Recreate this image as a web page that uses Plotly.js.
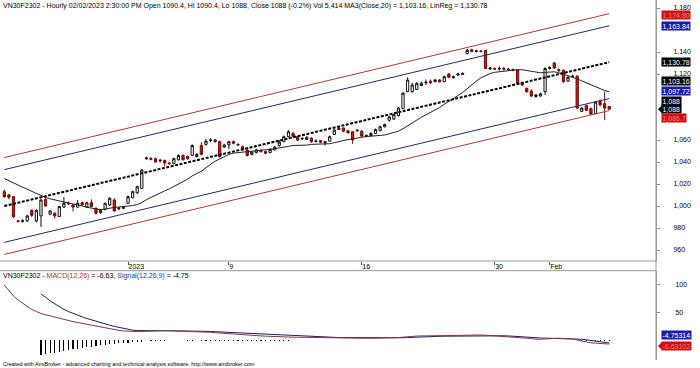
<!DOCTYPE html>
<html>
<head>
<meta charset="utf-8">
<script src="https://cdn.plot.ly/plotly-3.0.1.min.js"></script>
<style>html,body{margin:0;padding:0;background:#fff;}#chart{width:700px;height:368px;}</style>
</head>
<body>
<div id="chart"></div>
<script>
// ---- session calendar (trading days and hourly bars per day) ----
const days = ["2022-12-26","2022-12-27","2022-12-28","2022-12-29","2022-12-30",
  "2023-01-03","2023-01-04","2023-01-05","2023-01-06",
  "2023-01-09","2023-01-10","2023-01-11","2023-01-12","2023-01-13",
  "2023-01-16","2023-01-17","2023-01-18","2023-01-19","2023-01-27",
  "2023-01-30","2023-01-31","2023-02-01","2023-02-02"];
const barsPerDay = [3,6,6,6,6, 4,6,6,6, 6,6,6,6,5, 6,6,6,5,6, 6,6,7,7];
const hourSlots = ["08:45","09:00","10:00","11:00","13:00","14:00","14:30"];
const tickDays = ["2023-01-03","2023-01-09","2023-01-16","2023-01-30","2023-02-01"];
const tickLabels = ["2023","9","16","30","Feb"];

// price-axis labels that are visible (the others sit under the value boxes)
const priceTicks = [960,980,1000,1020,1040,1060,1120,1140,1180];
const macdTicks = [50,100];

// ---- OHLC ----
const open = [1013,1010,1008.5,986.5,986,986.5,996,986.5,991,1006,
 992.5,993.5,990.5,999,1002.5,1001,999,1003,999,1003,
 998,994,997,1001,1005.5,997.5,998,1002.5,1007.5,1012,
 1016,1043,1043,1043,1041,1041.5,1039,1038.5,1042,1046,
 1045,1046,1045,1055,1056,1059.5,1060,1058.5,1053.5,1055.5,
 1058.5,1056,1054,1051,1047,1048.5,1050.5,1049.5,1048.5,1051,
 1055,1058.5,1063,1066,1063,1061,1060.5,1061.5,1058.5,1059.5,
 1057.5,1059,1065,1071,1071,1068.5,1067.5,1069,1068,1063.5,
 1064,1066,1068.5,1072,1078,1079,1082,1088.5,1104,1104,
 1106,1109.5,1112,1113.5,1113,1114.5,1113,1120,1116.5,1119,
 1119.5,1138.5,1142,1140.5,1141,1141.5,1124.5,1125,1124.5,1125,
 1124.5,1124,1123.6,1112,1107,1104.5,1099.5,1100,1104,1125,
 1130,1124,1123.5,1113.5,1117.5,1118,1086,1091.5,1088.5,1084,
 1095,1093,1090.4];
const high = [1015,1011,1009,987,988,992,997,997,1006,1007,
 996,994,1000,1008,1004,1001.5,1005.5,1004,1004,1006,
 998.5,997,1003,1008,1007,999,1000,1009.5,1014,1018.5,
 1033.5,1045,1044.5,1044,1043,1042,1040,1044,1047,1047,
 1046,1056,1048,1058,1061,1061.5,1061,1059.5,1056.5,1059,
 1059.5,1057,1055,1051.5,1050,1052,1051.5,1050.5,1052.5,1054.5,
 1060,1064,1069,1067.5,1063.5,1062.5,1063.5,1062.5,1060.5,1060,
 1059,1064,1070,1072,1071.5,1069,1068,1070,1069,1065,
 1067,1070.5,1073,1075,1082,1084,1090,1103.5,1117,1112,
 1112.5,1113,1115,1115,1115.5,1115.5,1118.5,1121,1118.5,1121,
 1121.5,1143,1143,1142,1141.5,1142,1126.5,1126,1127,1126.5,
 1125.5,1125,1124,1112.5,1107.5,1106,1101.5,1103,1126,1127,
 1131,1125,1124,1118,1119.5,1119,1090,1092,1089.5,1095.5,
 1097,1104,1090.4];
const low = [1007.5,1006,989,985,985,985.5,990,985,981,999.5,
 992,988.5,990,998.5,1001,995,998.5,1000.5,998.5,999,
 992,993,996,1000,995,996,997,1002,1007,1011,
 1015.5,1042,1041.5,1039.5,1039.5,1036,1037.5,1038,1041.5,1041.5,
 1042,1045.5,1044,1046,1055,1058,1057.5,1044,1053,1051.8,
 1056,1054.5,1050,1045,1046,1048,1048.5,1047,1048,1050.5,
 1054,1058,1062.5,1062.5,1059,1060,1060,1057.5,1058,1057,
 1055,1058.5,1064.5,1069,1067,1066,1056.5,1067.5,1063,1062.5,
 1063.5,1065.5,1068,1071.5,1076.5,1078.5,1081.5,1088,1103.5,1103,
 1105.5,1109,1110,1111,1112.5,1112,1112.5,1116.5,1116,1118.5,
 1119,1138,1140,1139.5,1139.5,1124.5,1124,1123.5,1123,1123,
 1123.5,1122.5,1111,1109,1103,1099,1098.5,1099.5,1101,1124,
 1124.5,1122,1112,1113,1117,1088,1085.5,1086.5,1083,1083.5,
 1090.5,1078,1088];
const close = [1008.5,1008,990.3,986,986.5,991,991.5,996,1005.5,1000,
 995.5,991,999.5,1002.5,1002,999,1002.5,1001,1003,999.5,
 993.5,996,1002.5,1007,995.5,998,998.5,1008.5,1013,1017.5,
 1032.7,1043.5,1042.5,1040,1041.5,1039,1038.5,1043,1046,1042,
 1043,1055,1047,1047,1059,1060,1058.5,1045,1055.5,1058.5,
 1057,1055.5,1051,1046,1049,1051,1049.5,1048,1051.5,1053.5,
 1058,1063,1067.5,1063.5,1060,1061.5,1062.5,1058.5,1059,1058,
 1058.5,1063,1069,1069.5,1068,1066.5,1060,1068.5,1063.5,1064,
 1066,1069.5,1072,1074,1081,1083,1089,1102.5,1114.5,1110,
 1111.5,1111.5,1112.5,1112,1114.5,1113,1117.5,1117,1117.5,1120,
 1120.5,1141.5,1140.5,1141,1140.5,1125,1125.5,1124.5,1125,1124.5,
 1124,1123.5,1111.5,1110,1104,1100,1101,1102,1125,1126,
 1125.5,1123,1113,1117,1118,1089,1089,1087,1083.5,1094.5,
 1092,1089,1088];

// MA(Close,20): values read for the first bars (history before the window), then from closes
const maPeriod = 20;
const maHead = [1025.0,1023.2,1021.1,1019.1,1017.1,1015.2,1013.2,1011.3,1009.3,1007.7,
 1006.5,1005.6,1004.9,1004.1,1003.2,1002.2,1001.1,1000.0,998.9];

// Linear regression channel (read)
const linRegEnds = [1000.0, 1130.78];
const bandInner = 33.06;
const bandOuter = 44.05;

// MACD panel (read)
const macd = [99.1,88.5,79.7,72.6,66.4,60.2,55.3,51.8,48.2,46.1,
 43.8,41.7,39.6,37.5,35.5,33.7,32.2,30.6,28.8,27.2,
 25.1,23.3,21.7,20.5,19.4,18.0,17.0,16.3,15.9,15.7,
 16.1,16.6,17.3,17.5,17.5,17.5,17.5,17.3,17.0,16.6,
 16.3,16.1,15.9,15.5,15.0,14.5,13.8,13.1,12.4,11.8,
 11.5,10.8,10.2,9.5,9.0,8.5,8.1,7.6,7.1,6.7,
 6.2,5.8,5.8,5.8,5.6,5.4,5.2,5.0,4.8,4.6,
 4.4,4.3,4.4,4.6,4.7,4.7,4.4,4.3,4.1,3.9,
 3.8,3.8,3.9,4.1,4.2,4.5,5.0,5.8,6.8,7.4,
 7.8,8.0,8.1,8.1,8.1,8.0,8.0,8.0,7.9,7.9,
 7.9,8.8,9.4,9.8,10.0,9.3,8.7,8.2,7.7,7.2,
 6.8,6.4,5.6,4.8,3.9,3.0,2.3,1.8,2.6,3.3,
 3.8,3.9,3.4,3.1,2.9,0.6,-1.4,-3.0,-4.4,-4.9,
 -5.5,-6.1,-6.63];
const signal = [null,null,null,null,null,null,null,null,82.9,77.9,
 70.8,65.5,60.6,55.8,51.8,48.2,45.2,42.2,39.4,36.7,
 34.1,31.8,29.5,27.2,25.1,23.1,21.2,19.6,18.4,17.7,
 17.3,17.3,17.3,17.3,17.4,17.4,17.4,17.4,17.3,17.2,
 17.1,16.9,16.7,16.5,16.3,16.0,15.6,15.2,14.8,14.4,
 14.0,13.5,13.1,12.6,12.1,11.6,11.1,10.6,10.2,9.7,
 9.2,8.8,8.4,8.0,7.6,7.2,6.9,6.6,6.3,6.0,
 5.7,5.5,5.3,5.1,5.0,4.9,4.8,4.7,4.6,4.5,
 4.4,4.3,4.2,4.2,4.2,4.3,4.4,4.7,5.1,5.6,
 6.0,6.4,6.7,7.0,7.2,7.4,7.5,7.6,7.7,7.7,
 7.8,8.0,8.3,8.6,8.9,9.0,8.9,8.8,8.6,8.3,
 8.0,7.7,7.3,6.8,6.2,5.6,4.9,4.3,4.0,3.9,
 3.9,3.9,3.8,3.7,3.5,2.9,2.0,1.0,-0.1,-1.1,
 -2.3,-3.6,-4.75];
const hist = [null,null,null,null,null,null,null,null,-26.2,-24.4,
 -23.2,-22.1,-20.3,-19.0,-17.2,-16.0,-14.9,-13.6,-12.4,-11.3,
 -10.1,-8.8,-8.3,-7.0,-5.9,-5.2,-4.7,-4.1,-3.4,-2.9,
 -2.3,null,-1.5,-1.5,-1.5,-1.5,null,null,null,null,
 -1.5,-1.5,null,-1.5,-1.5,-1.5,-1.5,-1.5,-1.5,-1.5,
 -1.5,-1.5,-1.5,-1.5,-1.5,-1.5,-1.5,-1.5,-1.5,-1.5,
 -1.5,-1.5,-1.5,null,null,null,null,null,null,null,
 null,null,null,null,null,null,null,null,null,null,
 null,null,null,null,null,null,null,null,null,null,
 null,null,null,null,null,null,null,null,null,null,
 null,null,null,null,null,null,null,null,null,null,
 null,null,null,null,null,null,null,null,null,null,
 null,null,null,null,null,null,-1.5,-1.5,-1.5,-1.5,
 -1.5,-1.5,-1.5];

// ---- build categories ----
const cats = [];
const dayStart = {};
days.forEach((d, k) => {
  const n = barsPerDay[k];
  const slots = hourSlots.slice(hourSlots.length - n);
  dayStart[d] = cats.length;
  slots.forEach(h => cats.push(d + " " + h));
});
const tickvals = tickDays.map(d => cats[dayStart[d]]);

const ma = close.map((c, i) => {
  if (i < maHead.length) return maHead[i];
  let s = 0;
  for (let j = i - maPeriod + 1; j <= i; j++) s += close[j];
  return s / maPeriod;
});

const ends = [cats[0], cats[cats.length - 1]];
const band = off => linRegEnds.map(v => v + off);

const FONT = "Liberation Sans, Arial, sans-serif";
const traces = [
  {type:'candlestick', x:cats, open:open, high:high, low:low, close:close,
   increasing:{line:{color:'#111111', width:1}, fillcolor:'#ffffff'},
   decreasing:{line:{color:'#6a0c0c', width:1}, fillcolor:'#d01818'},
   whiskerwidth:0, hoverinfo:'skip', xaxis:'x', yaxis:'y'},
  {type:'scatter', mode:'lines', x:ends, y:band(bandOuter), line:{color:'#a04038', width:1}, hoverinfo:'skip'},
  {type:'scatter', mode:'lines', x:ends, y:band(bandInner), line:{color:'#26286a', width:1}, hoverinfo:'skip'},
  {type:'scatter', mode:'lines', x:ends, y:band(-bandInner), line:{color:'#26286a', width:1}, hoverinfo:'skip'},
  {type:'scatter', mode:'lines', x:ends, y:band(-bandOuter), line:{color:'#a04038', width:1}, hoverinfo:'skip'},
  {type:'scatter', mode:'lines', x:cats, y:ma, line:{color:'#222222', width:1}, hoverinfo:'skip'},
  {type:'scatter', mode:'lines', x:ends, y:linRegEnds, line:{color:'#000000', width:2, dash:'3px,1.5px'}, hoverinfo:'skip'},
  {type:'bar', x:cats, y:hist, marker:{color:'#000000', line:{width:0}}, width:0.25, xaxis:'x', yaxis:'y2', hoverinfo:'skip'},
  {type:'scatter', mode:'lines', x:cats, y:signal, line:{color:'#1e2050', width:1}, xaxis:'x', yaxis:'y2', hoverinfo:'skip'},
  {type:'scatter', mode:'lines', x:cats, y:macd, line:{color:'#7a3a55', width:1}, xaxis:'x', yaxis:'y2', hoverinfo:'skip'}
];

function box(text, val, bg, fg, yshift, yref) {
  return {xref:'paper', x:1, xanchor:'left', xshift:5, yref:yref||'y', y:val, yanchor:'middle', yshift:yshift,
    text:text, showarrow:false, bgcolor:bg, borderpad:0.5, font:{family:FONT, size:7, color:fg}};
}

const layout = {
  width:700, height:368,
  margin:{l:0, r:44, t:0, b:8},
  paper_bgcolor:'#ffffff', plot_bgcolor:'#ffffff',
  showlegend:false, bargap:0,
  font:{family:FONT, size:7, color:'#000'},
  xaxis:{type:'category', categoryorder:'array', categoryarray:cats, range:[-0.94, 142.2],
    tickmode:'array', tickvals:tickvals, ticktext:tickLabels,
    ticks:'outside', ticklen:3, tickcolor:'#555', ticklabelposition:'outside right', ticklabelstandoff:-1,
    tickfont:{family:FONT, size:7, color:'#000'},
    showgrid:false, zeroline:false, showline:false, rangeslider:{visible:false}, anchor:'y', fixedrange:true},
  yaxis:{domain:[0.275, 1], range:[950, 1187.27], side:'right', tickmode:'array', tickvals:priceTicks, tickformat:',',
    ticks:'outside', ticklen:3, tickcolor:'#888', showline:true, linecolor:'#999', linewidth:1,
    showgrid:false, zeroline:false, tickfont:{family:FONT, size:7, color:'#000'}, ticklabelstandoff:12, fixedrange:true},
  yaxis2:{domain:[0, 0.2472], range:[-35.2, 124.6], side:'right', anchor:'x', tickmode:'array', tickvals:macdTicks,
    ticks:'outside', ticklen:3, tickcolor:'#888', showline:true, linecolor:'#999', linewidth:1,
    showgrid:false, zeroline:false, tickfont:{family:FONT, size:7, color:'#000'}, ticklabelstandoff:14, fixedrange:true},
  shapes:[
    {type:'line', xref:'paper', yref:'paper', x0:1, x1:1, y0:0, y1:1, line:{color:'#999', width:1}},
    {type:'line', xref:'paper', yref:'paper', x0:0, x1:1, y0:0.275, y1:0.275, line:{color:'#999', width:1}},
    {type:'line', xref:'paper', yref:'paper', x0:0, x1:1, y0:0.2481, y1:0.2481, line:{color:'#999', width:1}},
    {type:'path', xref:'paper', yref:'y', xsizemode:'pixel', ysizemode:'pixel', xanchor:1, yanchor:1088,
      path:'M 2,0 L 6,4 L 6,-4 Z', fillcolor:'#000', line:{width:0}},
    {type:'path', xref:'paper', yref:'y2', xsizemode:'pixel', ysizemode:'pixel', xanchor:1, yanchor:-6.63,
      path:'M 2,-2 L 6,2 L 6,-6 Z', fillcolor:'#d01010', line:{width:0}}
  ],
  annotations:[
    {xref:'paper', yref:'paper', x:0, xshift:1, y:1, yanchor:'top', xanchor:'left', showarrow:false,
     text:'VN30F2302 - Hourly 02/02/2023 2:30:00 PM Open 1090.4, Hi 1090.4, Lo 1088, Close 1088 (-0.2%) Vol 5,414 MA3(Close,20) = 1,103.16, LinReg = 1,130.78',
     font:{family:FONT, size:7, color:'#000'}},
    {xref:'paper', yref:'paper', x:0, xshift:1, y:0.2331, yanchor:'middle', xanchor:'left', showarrow:false,
     text:'VN30F2302 - <span style="color:#b03030">MACD(12,26)</span> = -6.63, <span style="color:#30309a">Signal(12,26,9)</span> = -4.75',
     font:{family:FONT, size:7, color:'#000'}},
    {xref:'paper', yref:'paper', x:0, xshift:1, y:-0.011, yanchor:'middle', xanchor:'left', showarrow:false,
     text:'Created with AmiBroker - advanced charting and technical analysis software. http://www.amibroker.com',
     font:{family:FONT, size:5.5, color:'#000'}},
    box('1,174.80', 1174.80, '#d01010', '#f08080', -1.5),
    box('1,163.84', 1163.84, '#1c1ca8', '#ffffff', 0),
    box('1,130.78', 1130.78, '#000000', '#ffffff', 0),
    box('1,103.16', 1103.16, '#000000', '#ffffff', 11.8),
    box('1,097.72', 1097.72, '#1c1ca8', '#ffffff', 7.8),
    box('1,088', 1088, '#000000', '#ffffff', 8.4),
    box('1,088', 1088, '#000000', '#ffffff', 0),
    box('1,086.7', 1086.7, '#d01010', '#f08080', -7.7),
    box('-4.75314', -4.75, '#1c1ca8', '#ffffff', 8.5, 'y2'),
    box('-6.63102', -6.63, '#d01010', '#f08080', -2, 'y2')
  ]
};

Plotly.newPlot('chart', traces, layout, {staticPlot:true, displayModeBar:false});
</script>
</body>
</html>
